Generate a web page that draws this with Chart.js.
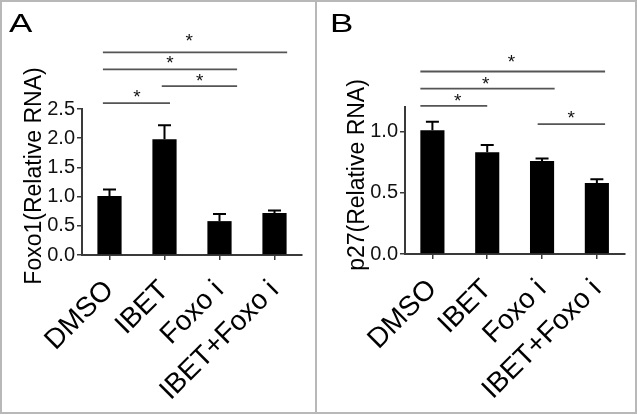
<!DOCTYPE html>
<html>
<head>
<meta charset="utf-8">
<script src="https://cdn.jsdelivr.net/npm/chart.js@4.4.1/dist/chart.umd.min.js"></script>
<style>
  body { margin: 0; background: #fff; }
  #wrap { position: relative; width: 637px; height: 415px; }
  .frame { position: absolute; top: 0; height: 414px; box-sizing: border-box; border: 2px solid #b8b8b8; }
  canvas { position: absolute; top: 0; }
</style>
</head>
<body>
<div id="wrap">
  <div class="frame" style="left:0; width:317px;"></div>
  <div class="frame" style="left:315px; width:322px;"></div>
  <canvas id="chartA" width="315" height="413" style="left:0"></canvas>
  <canvas id="chartB" width="320" height="413" style="left:316px"></canvas>
</div>
<script>
const groups = ["DMSO", "IBET", "Foxo i", "IBET+Foxo i"];

const foxo1Mean = [1.01, 1.98, 0.58, 0.72];
const foxo1Sem = [0.11, 0.24, 0.12, 0.04];
const foxo1Ticks = [0, 0.5, 1.0, 1.5, 2.0, 2.5];

const p27Mean = [1.01, 0.83, 0.76, 0.58];
const p27Sem = [0.07, 0.06, 0.02, 0.03];
const p27Ticks = [0, 0.5, 1.0];

// significance bars: [from group, to group, bar level, star at group, star level]
const foxo1Sig = [
  [-0.12, 3.23, 3.47, 1.45, 3.72],
  [-0.12, 2.32, 3.18, 1.10, 3.34],
  [0.95, 2.32, 2.89, 1.64, 3.04],
  [-0.12, 1.10, 2.60, 0.50, 2.77]
];
const p27Sig = [
  [-0.22, 3.15, 1.49, 1.44, 1.60],
  [-0.22, 2.23, 1.35, 0.97, 1.42],
  [-0.22, 1.00, 1.21, 0.46, 1.28],
  [1.92, 3.15, 1.06, 2.53, 1.14]
];

const FONT = "'Liberation Sans', Arial, Helvetica, sans-serif";
const axisColor = "#3a3a3a";

const panelPlugin = {
  id: "panel",
  afterDatasetsDraw(chart, args, opts) {
    const { ctx, scales: { x, y } } = chart;
    const means = chart.data.datasets[0].data;
    ctx.save();

    // error bars (upper SEM)
    ctx.strokeStyle = "#000";
    ctx.lineWidth = 2;
    means.forEach((m, i) => {
      const px = x.getPixelForValue(i);
      const top = y.getPixelForValue(m + opts.sem[i]);
      ctx.beginPath();
      ctx.moveTo(px, y.getPixelForValue(m));
      ctx.lineTo(px, top);
      ctx.moveTo(px - 6.5, top);
      ctx.lineTo(px + 6.5, top);
      ctx.stroke();
    });

    // significance bars
    ctx.strokeStyle = "#555";
    ctx.lineWidth = 1.8;
    ctx.fillStyle = "#111";
    ctx.font = "19px " + FONT;
    ctx.textAlign = "center";
    ctx.textBaseline = "alphabetic";
    const m = ctx.measureText("*");
    const shift = (m.actualBoundingBoxAscent - m.actualBoundingBoxDescent) / 2;
    opts.sig.forEach(s => {
      const ly = y.getPixelForValue(s[2]);
      ctx.beginPath();
      ctx.moveTo(x.getPixelForValue(s[0]), ly);
      ctx.lineTo(x.getPixelForValue(s[1]), ly);
      ctx.stroke();
      ctx.fillText("*", x.getPixelForValue(s[3]), y.getPixelForValue(s[4]) + shift);
    });

    // axis title
    ctx.fillStyle = "#000";
    ctx.font = "23px " + FONT;
    ctx.save();
    ctx.translate(opts.titleX, opts.titleY);
    ctx.rotate(-Math.PI / 2);
    ctx.fillText(opts.title, 0, 0);
    ctx.restore();

    // panel letter
    ctx.textAlign = "left";
    ctx.font = "25px " + FONT;
    ctx.translate(opts.letterX, 32);
    ctx.scale(1.4, 1);
    ctx.fillText(opts.letter, 0, 0);
    ctx.restore();
  }
};

function makeChart(id, means, sems, yMax, ticks, sig, panel, box) {
  return new Chart(document.getElementById(id), {
    type: "bar",
    data: {
      labels: groups,
      datasets: [{
        data: means,
        backgroundColor: "#000",
        barPercentage: 0.44,
        categoryPercentage: 1
      }]
    },
    options: {
      responsive: false,
      animation: false,
      layout: { padding: { top: box.top, right: box.right, left: 0, bottom: 0 } },
      plugins: {
        legend: { display: false },
        tooltip: { enabled: false },
        panel: Object.assign({ sem: sems, sig: sig }, panel)
      },
      scales: {
        x: {
          grid: { offset: false, drawOnChartArea: false, tickLength: 5, color: axisColor, lineWidth: 1.5 },
          border: { color: axisColor, width: 2 },
          ticks: {
            minRotation: 45, maxRotation: 45, padding: 14, color: "#000",
            font: { family: FONT, size: 28 }
          },
          afterFit: s => { s.height = box.xh; }
        },
        y: {
          min: 0,
          max: yMax,
          grid: { drawOnChartArea: false, tickLength: 5, color: axisColor, lineWidth: 1.5 },
          border: { color: axisColor, width: 2 },
          ticks: {
            padding: 2, color: "#111",
            font: { family: FONT, size: 20 },
            callback: v => v.toFixed(1)
          },
          afterBuildTicks: s => { s.ticks = ticks.map(v => ({ value: v })); },
          afterFit: s => { s.width = box.yw; }
        }
      }
    },
    plugins: [panelPlugin]
  });
}

makeChart("chartA", foxo1Mean, foxo1Sem, 2.5, foxo1Ticks, foxo1Sig,
  { title: "Foxo1(Relative RNA)", titleX: 41, titleY: 176, letter: "A", letterX: 9 },
  { top: 109, right: 13, yw: 82, xh: 158 });

makeChart("chartB", p27Mean, p27Sem, 1.2, p27Ticks, p27Sig,
  { title: "p27(Relative RNA)", titleX: 48, titleY: 175, letter: "B", letterX: 14 },
  { top: 107, right: 11, yw: 89, xh: 159 });
</script>
</body>
</html>
